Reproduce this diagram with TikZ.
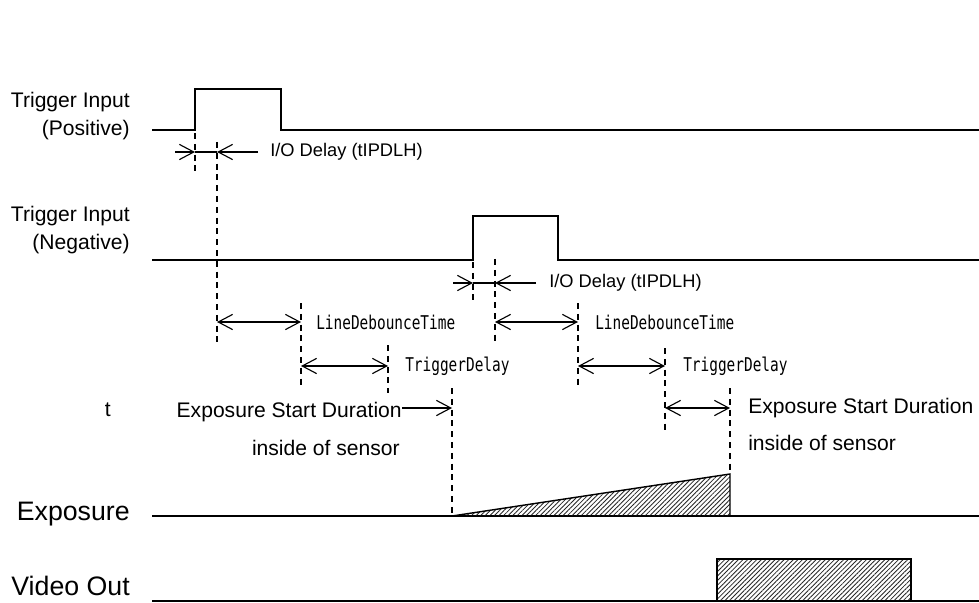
\documentclass[tikz,border=0pt]{standalone}
\usepackage{fontspec}
\setmainfont{Liberation Sans}
\newfontfamily\gothic[FakeStretch=0.76]{DejaVu Sans Mono}
\usetikzlibrary{arrows.meta,patterns.meta}
\tikzset{
  sig/.style={line width=1pt},
  guide/.style={line width=0.8pt, dash pattern=on 1.5mm off 1.2mm},
  dim/.style={line width=0.8pt},
  hatch/.style={pattern={Lines[angle=45,distance=2.3pt,line width=0.6pt]}, pattern color=black!85},
  lbl/.style={font=\fontsize{15}{18}\selectfont, anchor=east, inner sep=0},
  big/.style={font=\fontsize{19}{22}\selectfont, anchor=east, inner sep=0},
  note/.style={font=\fontsize{13}{16}\selectfont, anchor=west, inner sep=0},
  prm/.style={font=\gothic\fontsize{13.5}{15}\selectfont, anchor=west, inner sep=0}
}
\begin{document}
\begin{tikzpicture}[>={Straight Barb[length=3.6mm,width=3.8mm]}, x=0.25mm, y=-0.25mm]
\useasboundingbox (0,0) rectangle (979,603);
% signal names
\node[lbl] (posa) at (130,102) {Trigger Input};
\node[lbl] (posb) at (130,130) {(Positive)};
\node[lbl] (nega) at (130,216) {Trigger Input};
\node[lbl] (negb) at (130,244) {(Negative)};
\node[lbl] (stray) at (111,410) {t};
\node[big] (expo) at (130,514) {Exposure};
\node[big] (vout) at (130,586) {Video Out};
% signals
\draw[sig] (152,130) -| (195,89) -| (281,130) -- (979,130);
\draw[sig] (152,260) -| (473,216) -| (558,260) -- (979,260);
\draw[sig] (152,516) -- (979,516);
\draw[sig] (152,601) -- (979,601);
\draw[sig, hatch] (452,516) -- (730,474) -- (730,516) -- cycle;
\draw[sig, hatch] (717,601) rectangle (911,559);
% guides
\foreach \x/\a/\b in {195/133/173, 217/142/345, 301/303/385, 388/345/393, 452/388/516,
                      473/262/302, 495/259/345, 578/303/388, 665/348/432, 730/388/474}
  \draw[guide] (\x,\a) -- (\x,\b);
% I/O delays
\foreach \s/\e/\y in {195/217/152, 473/495/283}
 {\draw[dim,->] ({\s-20},\y) -- (\s,\y);
  \draw[dim] (\s,\y) -- (\e,\y);
  \draw[dim,->] ({\e+41},\y) -- (\e,\y);};
\node[note] (iopos) at (270,152) {I/O Delay (tIPDLH)};
\node[note] (ioneg) at (549,283) {I/O Delay (tIPDLH)};
% debounce, delay, start duration
\foreach \a/\b/\y in {217/301/322, 495/578/322, 301/388/366, 578/665/366, 665/730/408}
  \draw[dim,<->] (\a,\y) -- (\b,\y);
\draw[dim,->] (402,408) -- (452,408);
\node[prm] (dbpos) at (316,322) {LineDebounceTime};
\node[prm] (dbneg) at (595,322) {LineDebounceTime};
\node[prm] (tdpos) at (405,366) {TriggerDelay};
\node[prm] (tdneg) at (683,366) {TriggerDelay};
\node[lbl] (esda) at (402,412) {Exposure Start Duration};
\node[lbl] (esdb) at (400,448) {inside of sensor};
\node[lbl, anchor=west] (esdc) at (748,408) {Exposure Start Duration};
\node[lbl, anchor=west] (esdd) at (748,443) {inside of sensor};
\end{tikzpicture}
\end{document}
